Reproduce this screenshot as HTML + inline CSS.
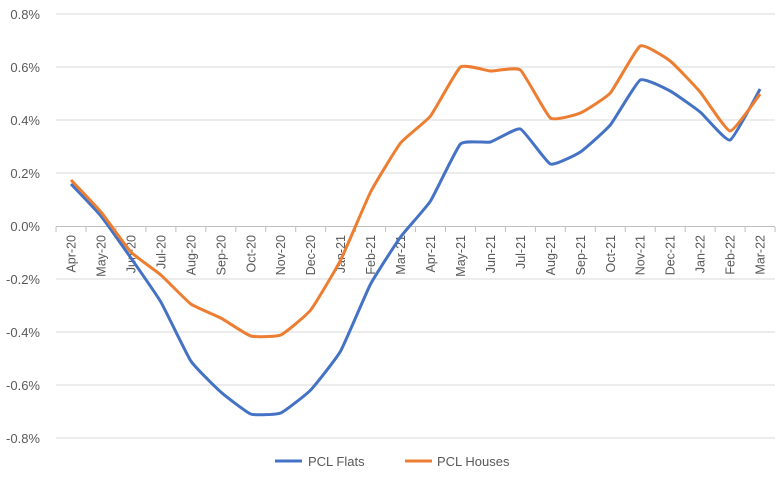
<!DOCTYPE html>
<html><head><style>body{margin:0;background:#fff}svg{display:block}text{font-family:"Liberation Sans",sans-serif;fill:#595959}</style></head>
<body>
<svg width="780" height="478" viewBox="0 0 780 478" xmlns="http://www.w3.org/2000/svg">
<g stroke="#d9d9d9" stroke-width="1">
<line x1="56" y1="14" x2="775" y2="14"/><line x1="56" y1="67" x2="775" y2="67"/><line x1="56" y1="120" x2="775" y2="120"/><line x1="56" y1="173" x2="775" y2="173"/><line x1="56" y1="279" x2="775" y2="279"/><line x1="56" y1="332" x2="775" y2="332"/><line x1="56" y1="385" x2="775" y2="385"/><line x1="56" y1="438" x2="775" y2="438"/>
<line x1="56" y1="226.5" x2="775" y2="226.5" stroke="#bfbfbf"/>
</g>
<g font-size="13" text-anchor="end">
<text x="40" y="19">0.8%</text><text x="40" y="72">0.6%</text><text x="40" y="125">0.4%</text><text x="40" y="178">0.2%</text><text x="40" y="231">0.0%</text><text x="40" y="284">-0.2%</text><text x="40" y="337">-0.4%</text><text x="40" y="390">-0.6%</text><text x="40" y="443">-0.8%</text>
</g>
<g id="ticks" stroke="#bfbfbf"></g>
<g id="lab" font-size="12.5" text-anchor="end"></g>
<path id="fl" fill="none" stroke="#4472c4" stroke-width="3" stroke-linejoin="round"/>
<path id="ho" fill="none" stroke="#ed7d31" stroke-width="3" stroke-linejoin="round"/>
<line x1="275" y1="461" x2="302" y2="461" stroke="#4472c4" stroke-width="3"/>
<text x="308" y="466" font-size="13">PCL Flats</text>
<line x1="405" y1="461" x2="432" y2="461" stroke="#ed7d31" stroke-width="3"/>
<text x="437" y="466" font-size="13">PCL Houses</text>
</svg>
<script>
var m=["Apr-20","May-20","Jun-20","Jul-20","Aug-20","Sep-20","Oct-20","Nov-20","Dec-20","Jan-21","Feb-21","Mar-21","Apr-21","May-21","Jun-21","Jul-21","Aug-21","Sep-21","Oct-21","Nov-21","Dec-21","Jan-22","Feb-22","Mar-22"];
var f=[184,216,258,302,361,392,414,413,390,351,284,237,201,144,142,129,164,152,125,80,91,112,140,89];
var h=[180,212,252,275,304,318,336,335,310,260,192,143,116,67,71,70,118,113,93,46,61,92,131,94];
var ns="http://www.w3.org/2000/svg",st=29.96,x0=71;
var T=document.getElementById("ticks"),L=document.getElementById("lab");
for(var i=0;i<=24;i++){var l=document.createElementNS(ns,"line");var x=x0-st/2+i*st;l.setAttribute("x1",x);l.setAttribute("x2",x);l.setAttribute("y1",227);l.setAttribute("y2",232);T.appendChild(l);}
function sm(y){var p=y.map(function(v,i){return[x0+i*st,v]});var d="M"+p[0][0]+","+p[0][1];var k=0.07;
for(var i=0;i<p.length-1;i++){var a=p[i-1]||p[i],b=p[i],c=p[i+1],e=p[i+2]||c;
d+=" C"+(b[0]+(c[0]-a[0])*k)+","+(b[1]+(c[1]-a[1])*k)+" "+(c[0]-(e[0]-b[0])*k)+","+(c[1]-(e[1]-b[1])*k)+" "+c[0]+","+c[1];}return d;}
for(var i=0;i<24;i++){var x=x0+i*st;
var t=document.createElementNS(ns,"text");t.setAttribute("transform","translate("+(x+4.5)+",235) rotate(-90)");t.textContent=m[i];L.appendChild(t);}
document.getElementById("fl").setAttribute("d",sm(f));
document.getElementById("ho").setAttribute("d",sm(h));
</script>
</body></html>
